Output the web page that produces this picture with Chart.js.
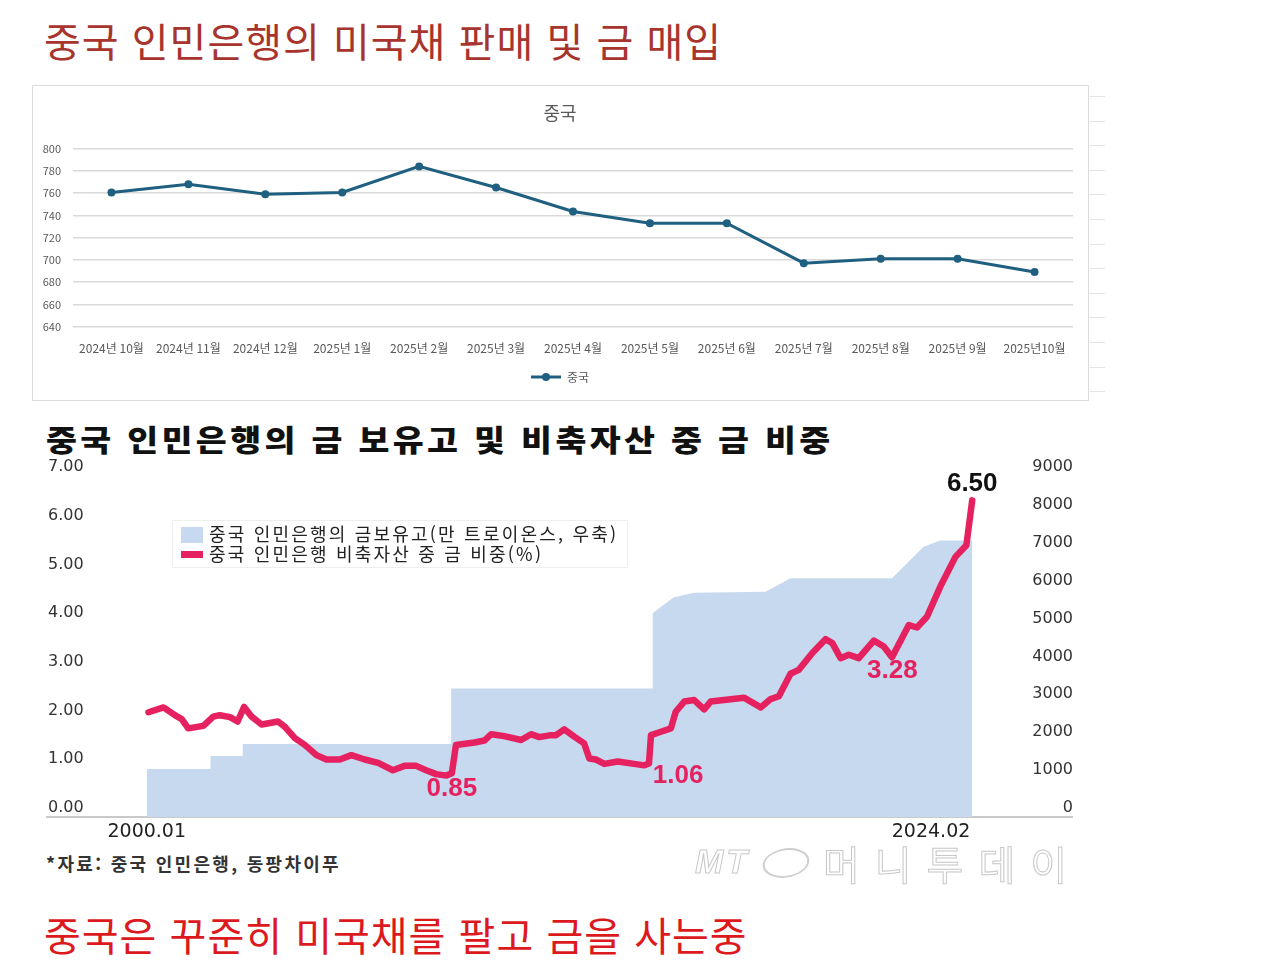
<!DOCTYPE html>
<html lang="ko">
<head>
<meta charset="utf-8">
<title>중국 인민은행의 미국채 판매 및 금 매입</title>
<script src="https://cdn.jsdelivr.net/npm/chart.js@4.4.1/dist/chart.umd.min.js"></script>
<style>
  body { margin: 0; background: #fff; width: 1263px; height: 979px; position: relative; overflow: hidden;
         font-family: "Noto Sans CJK KR", "Noto Sans", sans-serif; }
  .abs { position: absolute; white-space: nowrap; }
  #title1 { left: 44px; top: 12px; font-size: 40px; line-height: 56px; color: #a8352d; letter-spacing: 1px; }
  #box1 { left: 32px; top: 85px; width: 1055px; height: 314px; border: 1px solid #dcdcdc; }
  #c1wrap { left: 33px; top: 86px; width: 1054px; height: 313px; }
  #sheet { left: 1090px; top: 85px; width: 15px; height: 320px;
           background: repeating-linear-gradient(to bottom, transparent 0, transparent 11px, #e4e4e4 11px, #e4e4e4 12px, transparent 12px, transparent 24.6px); }
  #title2 { left: 46px; top: 418px; font-size: 30px; line-height: 40px; font-weight: 900; color: #111; letter-spacing: 3px;
            transform: scaleX(1.12); transform-origin: 0 50%; }
  #c2wrap { left: 45px; top: 455px; width: 1028px; height: 395px; }
  #legend2 { left: 172px; top: 520px; width: 454px; height: 46px; background: rgba(255,255,255,0.92); border: 1px solid #eeeeee;
             font-size: 18px; color: #222; letter-spacing: 2.2px; }
  #legend2 .row { position: absolute; left: 8px; height: 22px; line-height: 22px; }
  #legend2 .sw { position: absolute; left: 0; width: 22px; }
  #legend2 .tx { position: absolute; left: 28px; top: -1px; }
  #source { left: 46px; top: 850px; font-size: 18px; line-height: 26px; font-weight: 700; color: #333; letter-spacing: 2.3px; }
  #mark { left: 695px; top: 836px; height: 50px; color: transparent; -webkit-text-stroke: 1px #c8c8c8; }
  #mark .mt { position: absolute; left: 0; top: 6px; font-family: "Liberation Sans", sans-serif; font-style: italic; font-weight: 700; font-size: 34px; letter-spacing: 3px; }
  #mark .logo { position: absolute; left: 68px; top: 12px; width: 42px; height: 26px; border: 2px solid #cfcfcf; border-radius: 50%; transform: skewX(-15deg); }
  #mark .name { position: absolute; left: 128px; top: -2px; font-size: 40px; letter-spacing: 15px; }
  #caption { left: 44px; top: 906px; font-size: 40px; line-height: 56px; color: #dc1a1e; letter-spacing: 1px; }
</style>
</head>
<body>
<div id="title1" class="abs">중국 인민은행의 미국채 판매 및 금 매입</div>
<div id="box1" class="abs"></div>
<div id="sheet" class="abs"></div>
<div id="c1wrap" class="abs"><canvas id="c1"></canvas></div>

<div id="title2" class="abs">중국 인민은행의 금 보유고 및 비축자산 중 금 비중</div>
<div id="c2wrap" class="abs"><canvas id="c2"></canvas></div>
<div id="legend2" class="abs">
  <div class="row" style="top:2px"><span class="sw" style="top:4px;height:16px;background:#c6d9ee"></span><span class="tx">중국 인민은행의 금보유고(만 트로이온스, 우축)</span></div>
  <div class="row" style="top:22px"><span class="sw" style="top:8px;height:7px;background:#e6215f"></span><span class="tx">중국 인민은행 비축자산 중 금 비중(%)</span></div>
</div>
<div id="source" class="abs">*자료: 중국 인민은행, 동팡차이푸</div>
<div id="mark" class="abs"><span class="mt">MT</span><span class="logo"></span><span class="name">머니투데이</span></div>
<div id="caption" class="abs">중국은 꾸준히 미국채를 팔고 금을 사는중</div>

<script>
// 위쪽 차트: 중국 미국채 보유액
const months = ['2024년 10월', '2024년 11월', '2024년 12월', '2025년 1월', '2025년 2월', '2025년 3월', '2025년 4월',
  '2025년 5월', '2025년 6월', '2025년 7월', '2025년 8월', '2025년 9월', '2025년10월'];
const chinaHoldings = [760.5, 768, 759, 760.5, 784, 765, 743.5, 733, 733, 697, 701, 701, 689];

// 아래쪽 차트: 금 보유고 (만 트로이온스, 우축)
const goldYears = [2000.0, 2001.86, 2001.86, 2002.80, 2002.80, 2008.88, 2008.88, 2014.76, 2014.76, 2015.0,
  2015.38, 2015.97, 2018.05, 2018.78, 2021.74, 2022.18, 2022.66, 2023.15, 2024.08];
const goldReserve = [1267, 1267, 1608, 1608, 1929, 1929, 3389, 3389, 5375, 5550,
  5797, 5920, 5946, 6300, 6300, 6695, 7134, 7300, 7300];

// 비축자산 중 금 비중 (%)
const shareYears = [2000.05, 2000.49, 2000.82, 2001.02, 2001.21, 2001.65, 2001.94, 2002.13, 2002.43, 2002.65,
  2002.84, 2003.06, 2003.35, 2003.83, 2004.03, 2004.32, 2004.61, 2004.95, 2005.24, 2005.63,
  2005.97, 2006.36, 2006.75, 2007.18, 2007.52, 2007.86, 2008.15, 2008.44, 2008.74, 2008.90,
  2009.02, 2009.56, 2009.85, 2010.05, 2010.43, 2010.92, 2011.21, 2011.45, 2011.79, 2011.94,
  2012.18, 2012.47, 2012.76, 2012.91, 2013.10, 2013.35, 2013.74, 2014.22, 2014.51, 2014.65,
  2014.71, 2015.00, 2015.29, 2015.43, 2015.68, 2015.97, 2016.26, 2016.45, 2016.84, 2017.42,
  2017.91, 2018.20, 2018.44, 2018.78, 2019.02, 2019.41, 2019.80, 2020.00, 2020.24, 2020.48,
  2020.77, 2021.21, 2021.50, 2021.74, 2022.23, 2022.47, 2022.76, 2023.15, 2023.59, 2023.91, 2024.08];
const goldShare = [2.15, 2.25, 2.09, 2.01, 1.82, 1.87, 2.06, 2.09, 2.05, 1.96,
  2.26, 2.06, 1.90, 1.96, 1.85, 1.62, 1.48, 1.27, 1.18, 1.18,
  1.27, 1.18, 1.11, 0.96, 1.05, 1.05, 0.96, 0.88, 0.85, 0.90,
  1.48, 1.53, 1.57, 1.70, 1.66, 1.58, 1.70, 1.64, 1.68, 1.68,
  1.80, 1.65, 1.51, 1.20, 1.18, 1.09, 1.14, 1.09, 1.06, 1.10,
  1.68, 1.75, 1.82, 2.16, 2.37, 2.40, 2.21, 2.37, 2.40, 2.45,
  2.25, 2.42, 2.48, 2.94, 3.02, 3.36, 3.65, 3.57, 3.26, 3.33,
  3.26, 3.62, 3.50, 3.28, 3.94, 3.89, 4.11, 4.73, 5.34, 5.58, 6.50];

const shareNotes = [
  { text: '0.85', year: 2008.9, value: 0.85, color: '#e6215f' },
  { text: '1.06', year: 2015.5, value: 1.06, color: '#e6215f' },
  { text: '3.28', year: 2021.75, value: 3.28, color: '#e6215f' },
  { text: '6.50', year: 2024.08, value: 6.50, color: '#111' }
];
const xEnds = [{ text: '2000.01', year: 2000.0 }, { text: '2024.02', year: 2024.083 }];

// 범례 아이콘 (선 + 점)
const icon = document.createElement('canvas');
icon.width = 30; icon.height = 10;
const ic = icon.getContext('2d');
ic.strokeStyle = '#1f5f80'; ic.lineWidth = 3;
ic.beginPath(); ic.moveTo(0, 5); ic.lineTo(30, 5); ic.stroke();
ic.fillStyle = '#1f5f80';
ic.beginPath(); ic.arc(15, 5, 4, 0, Math.PI * 2); ic.fill();

new Chart(document.getElementById('c1'), {
  type: 'line',
  data: {
    labels: months,
    datasets: [{
      label: '중국',
      data: chinaHoldings,
      borderColor: '#1f5f80',
      backgroundColor: '#1f5f80',
      borderWidth: 3,
      pointRadius: 4,
      pointBorderWidth: 0,
      tension: 0
    }]
  },
  options: {
    responsive: true,
    maintainAspectRatio: false,
    animation: false,
    layout: { padding: { left: 0, right: 0, top: 0, bottom: 6 } },
    plugins: {
      title: {
        display: true, text: '중국', color: '#595959',
        font: { family: 'Noto Sans CJK KR', size: 18, weight: 'normal' },
        padding: { top: 16, bottom: 25 }
      },
      legend: {
        position: 'bottom',
        labels: {
          color: '#595959',
          font: { family: 'Noto Sans CJK KR', size: 12 },
          usePointStyle: true,
          pointStyleWidth: 30,
          padding: 8,
          generateLabels: (chart) => Chart.defaults.plugins.legend.labels.generateLabels(chart)
            .map(l => Object.assign(l, { pointStyle: icon }))
        }
      },
      tooltip: { enabled: false }
    },
    scales: {
      y: {
        min: 640, max: 800,
        ticks: { stepSize: 20, color: '#595959', font: { family: 'Noto Sans CJK KR', size: 11 }, padding: 12 },
        grid: { color: '#d9d9d9', lineWidth: 1.5, drawTicks: false },
        border: { display: false },
        afterFit: (s) => { s.width = 40; }
      },
      yr: {
        position: 'right',
        ticks: { display: false },
        grid: { display: false, drawTicks: false },
        border: { display: false },
        afterFit: (s) => { s.width = 14; }
      },
      x: {
        offset: true,
        ticks: { color: '#595959', font: { family: 'Noto Sans CJK KR', size: 12 }, padding: 7, maxRotation: 0, autoSkip: false },
        grid: { display: false },
        border: { display: false }
      }
    }
  }
});

const notesPlugin = {
  id: 'notes',
  afterDatasetsDraw(chart) {
    const { ctx, scales, chartArea } = chart;
    ctx.save();
    ctx.font = 'bold 26px "Liberation Sans", sans-serif';
    ctx.textAlign = 'center';
    ctx.textBaseline = 'middle';
    shareNotes.forEach((n, i) => {
      const px = scales.x.getPixelForValue(n.year);
      const py = scales.y.getPixelForValue(n.value) + (i === 3 ? -17 : (i === 0 ? 13 : (i === 1 ? 10 : 14)));
      ctx.fillStyle = n.color;
      ctx.fillText(n.text, px, py);
    });
    ctx.font = '19px "DejaVu Sans", sans-serif';
    ctx.fillStyle = '#222';
    xEnds.forEach((e, i) => {
      ctx.textAlign = i === 0 ? 'center' : 'right';
      ctx.fillText(e.text, scales.x.getPixelForValue(e.year) - (i === 0 ? 0 : 2), chartArea.bottom + 15);
    });
    ctx.restore();
  }
};

const tickFont = { family: 'DejaVu Sans', size: 16 };
new Chart(document.getElementById('c2'), {
  type: 'line',
  data: {
    datasets: [{
      label: '중국 인민은행 비축자산 중 금 비중(%)',
      data: shareYears.map((x, i) => ({ x, y: goldShare[i] })),
      yAxisID: 'y',
      borderColor: '#e6215f',
      borderWidth: 6.5,
      borderJoinStyle: 'round',
      borderCapStyle: 'round',
      pointRadius: 0,
      fill: false,
      order: 1
    }, {
      label: '중국 인민은행의 금보유고(만 트로이온스, 우축)',
      data: goldYears.map((x, i) => ({ x, y: goldReserve[i] })),
      yAxisID: 'y2',
      borderWidth: 0,
      backgroundColor: '#c6d9ee',
      pointRadius: 0,
      fill: 'origin',
      order: 2
    }]
  },
  options: {
    responsive: true,
    maintainAspectRatio: false,
    animation: false,
    layout: { padding: { left: 0, right: 0, top: 21, bottom: 33 } },
    plugins: { legend: { display: false }, tooltip: { enabled: false } },
    scales: {
      x: {
        type: 'linear', min: 1997.09, max: 2027.02,
        ticks: { display: false },
        grid: { display: false, drawTicks: false },
        border: { display: true, color: '#c9c9c9', width: 2 }
      },
      y: {
        position: 'left', min: 0, max: 7,
        ticks: { stepSize: 1, mirror: true, padding: 1, labelOffset: -9, color: '#333', font: tickFont,
                 callback: (v) => v.toFixed(2) },
        grid: { display: false, drawTicks: false },
        border: { display: false }
      },
      y2: {
        position: 'right', min: 0, max: 9000,
        ticks: { stepSize: 1000, mirror: true, padding: 0, labelOffset: -9, color: '#333', font: tickFont,
                 callback: (v) => String(v) },
        grid: { display: false, drawTicks: false },
        border: { display: false }
      }
    }
  },
  plugins: [notesPlugin]
});
</script>
</body>
</html>
